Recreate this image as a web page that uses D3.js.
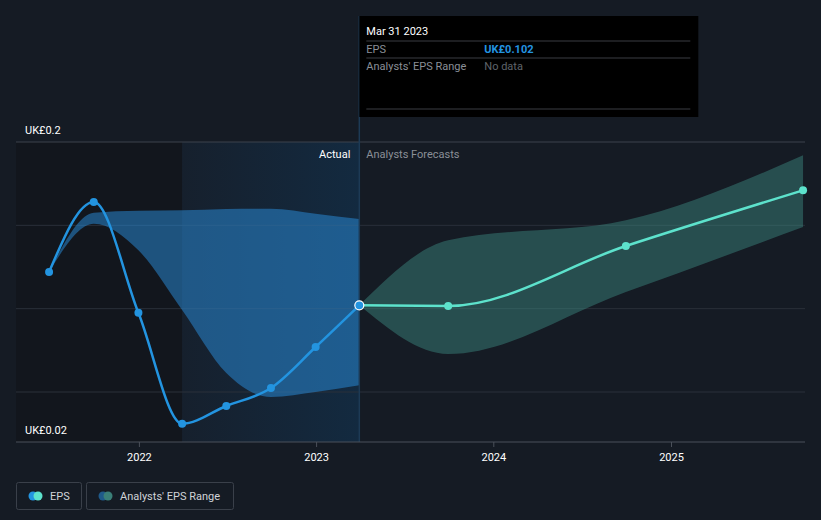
<!DOCTYPE html>
<html><head><meta charset="utf-8">
<script src="https://cdn.jsdelivr.net/npm/d3@7"></script>
<style>
html,body{margin:0;padding:0;background:#151b24;}
svg{display:block;font-family:Roboto,"Noto Sans",sans-serif;}
</style></head>
<body>
<svg id="c" width="821" height="520"></svg>
<script>
// ---- data ----
const actualDates = ["2021-06-30","2021-09-30","2021-12-31","2022-03-31","2022-06-30","2022-09-30","2022-12-31","2023-03-31"];
const actualEPS   = [0.122, 0.164, 0.0975, 0.031, 0.0416, 0.0524, 0.077, 0.102];
const actualLow   = [0.122, 0.151, 0.135, 0.0992, 0.0614, 0.047, 0.050, 0.054];
const actualHigh  = [0.122, 0.1576, 0.1588, 0.159, 0.1598, 0.160, 0.157, 0.1538];
const forecastDates = ["2023-03-31","2023-09-30","2024-09-30","2025-09-30"];
const forecastEPS   = [0.102, 0.1016, 0.1376, 0.171];
const forecastLow   = [0.102, 0.0728, 0.110, 0.149];
const forecastHigh  = [0.102, 0.141, 0.153, 0.192];
const yTicks = [0.02, 0.05, 0.1, 0.15, 0.2];
const yLabels = ["UK£0.02", "UK£0.2"];
const xTickYears = [2022, 2023, 2024, 2025];
const tooltipDate = "Mar 31 2023";
const tooltipEPS = "UK£0.102";

(function(){
const parse = d3.timeParse("%Y-%m-%d");
const svg = d3.select("#c");
const W = 821, H = 520;
const pL = 16, pR = 805, pT = 142, pB = 442;

const x = d3.scaleTime()
  .domain([new Date(2021,0,1), new Date(2025,0,1)])
  .range([139 - 177.3, 671]);
const y = d3.scaleLinear().domain([0.02, 0.2]).range([pB, pT]);

const nowDate = parse("2023-03-31");
const nowX = x(nowDate);

const defs = svg.append("defs");
const g1 = defs.append("linearGradient").attr("id","pastGrad").attr("x1","0").attr("x2","1").attr("y1","0").attr("y2","0");
g1.append("stop").attr("offset","0").attr("stop-color","#16202d");
g1.append("stop").attr("offset","1").attr("stop-color","#132a40");

svg.append("rect").attr("width",W).attr("height",H).attr("fill","#151b24");
const shadeStart = x(parse("2022-03-31"));
svg.append("rect").attr("x",pL).attr("y",pT).attr("width",shadeStart-pL).attr("height",pB-pT).attr("fill","#12161d");
svg.append("rect").attr("x",shadeStart).attr("y",pT).attr("width",nowX-shadeStart).attr("height",pB-pT).attr("fill","url(#pastGrad)");

svg.append("g").selectAll("line").data(yTicks.filter(v=>v!==0.02)).join("line")
  .attr("x1",pL).attr("x2",pR).attr("y1",d=>y(d)).attr("y2",d=>y(d))
  .attr("stroke", d=> d===0.2 ? "#3c424c" : "#2a303a").attr("stroke-width",1);

const aData = actualDates.map((d,i)=>({date:parse(d),lo:actualLow[i],hi:actualHigh[i],v:actualEPS[i]}));
const fData = forecastDates.map((d,i)=>({date:parse(d),lo:forecastLow[i],hi:forecastHigh[i],v:forecastEPS[i]}));
const area = d3.area().curve(d3.curveMonotoneX).x(d=>x(d.date)).y0(d=>y(d.lo)).y1(d=>y(d.hi));
svg.append("path").datum(aData).attr("d",area).attr("fill","#2a8fe0").attr("fill-opacity",0.5);
svg.append("path").datum(fData).attr("d",area).attr("fill","#3f8f86").attr("fill-opacity",0.45);

svg.append("line").attr("x1",nowX).attr("x2",nowX).attr("y1",16).attr("y2",pB).attr("stroke","#1d3a55").attr("stroke-width",1.5);

const xAxis = d3.axisBottom(x).tickValues(xTickYears.map(yv=>new Date(yv,0,1))).tickFormat(d3.timeFormat("%Y")).tickSize(5).tickPadding(6);
const ax = svg.append("g").attr("transform",`translate(0,${pB})`).call(xAxis);
ax.select(".domain").remove();
ax.selectAll(".tick line").attr("stroke","#4a505a");
ax.selectAll(".tick text").attr("fill","#ffffff").attr("font-size",11).attr("font-family","Roboto, sans-serif");
svg.append("line").attr("x1",pL).attr("x2",pR).attr("y1",pB).attr("y2",pB).attr("stroke","#4a505a");

const line = d3.line().curve(d3.curveMonotoneX).x(d=>x(d.date)).y(d=>y(d.v));
svg.append("path").datum(fData).attr("d",line).attr("fill","none").attr("stroke","#5de2cc").attr("stroke-width",2.5);
svg.append("path").datum(aData).attr("d",line).attr("fill","none").attr("stroke","#2394e0").attr("stroke-width",2.5);

svg.append("g").selectAll("circle").data(fData.slice(1)).join("circle")
  .attr("cx",d=>x(d.date)).attr("cy",d=>y(d.v)).attr("r",4).attr("fill","#5de2cc");
svg.append("g").selectAll("circle").data(aData.slice(0,-1)).join("circle")
  .attr("cx",d=>x(d.date)).attr("cy",d=>y(d.v)).attr("r",4).attr("fill","#2394e0");
const last = aData[aData.length-1];
svg.append("circle").attr("cx",x(last.date)).attr("cy",y(last.v)).attr("r",4.5).attr("fill","#2394e0").attr("stroke","#ffffff").attr("stroke-width",1.2);

svg.append("text").attr("x",25).attr("y",y(0.2)-8).attr("fill","#ffffff").attr("font-size",11).text(yLabels[1]);
svg.append("text").attr("x",25).attr("y",y(0.02)-8).attr("fill","#ffffff").attr("font-size",11).text(yLabels[0]);

svg.append("text").attr("x",nowX-9).attr("y",158).attr("text-anchor","end").attr("fill","#ffffff").attr("font-size",11).text("Actual");
svg.append("text").attr("x",nowX+7).attr("y",158).attr("fill","#8a8f97").attr("font-size",11).text("Analysts Forecasts");

const tt = svg.append("g").attr("transform",`translate(${nowX},16)`);
tt.append("rect").attr("width",339).attr("height",101).attr("fill","#000000");
tt.append("text").attr("x",7).attr("y",19).attr("fill","#ffffff").attr("font-size",11).text(tooltipDate);
[25,42,93].forEach(yy=>tt.append("line").attr("x1",7).attr("x2",331).attr("y1",yy).attr("y2",yy).attr("stroke","#3a3d42"));
tt.append("text").attr("x",7).attr("y",37).attr("fill","#8a8f97").attr("font-size",11).text("EPS");
tt.append("text").attr("x",125).attr("y",37).attr("fill","#2394e0").attr("font-size",11).attr("font-weight","bold").text(tooltipEPS);
tt.append("text").attr("x",7).attr("y",54).attr("fill","#8a8f97").attr("font-size",11).text("Analysts' EPS Range");
tt.append("text").attr("x",125).attr("y",54).attr("fill","#5f646b").attr("font-size",11).text("No data");

const lg = svg.append("g");
lg.append("rect").attr("x",16.5).attr("y",482.5).attr("width",65).attr("height",27).attr("rx",2).attr("fill","none").attr("stroke","#3a404a");
lg.append("circle").attr("cx",33).attr("cy",496).attr("r",4.5).attr("fill","#2394e0");
lg.append("circle").attr("cx",38).attr("cy",496).attr("r",4.5).attr("fill","#5de2cc");
lg.append("text").attr("x",50).attr("y",500).attr("fill","#d0d3d8").attr("font-size",11).text("EPS");
lg.append("rect").attr("x",86.5).attr("y",482.5).attr("width",147).attr("height",27).attr("rx",2).attr("fill","none").attr("stroke","#3a404a");
lg.append("circle").attr("cx",103).attr("cy",496).attr("r",4.5).attr("fill","#1f5a8a");
lg.append("circle").attr("cx",108).attr("cy",496).attr("r",4.5).attr("fill","#3a7f78");
lg.append("text").attr("x",120).attr("y",500).attr("fill","#d0d3d8").attr("font-size",11).text("Analysts' EPS Range");
})();
</script>
</body></html>
